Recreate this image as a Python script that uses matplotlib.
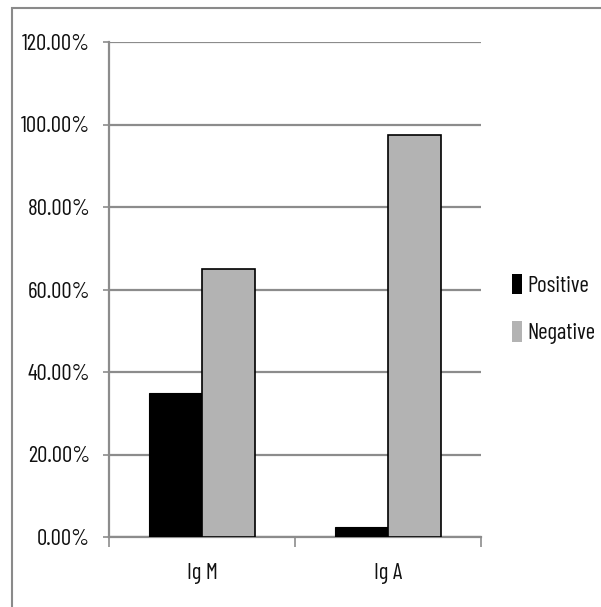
import matplotlib
matplotlib.use("Agg")
import matplotlib.pyplot as plt
from matplotlib.patches import Patch, Rectangle
from matplotlib.ticker import FuncFormatter, FixedLocator
import numpy as np

categories = ["Ig M", "Ig A"]
positive = [35.0, 2.5]
negative = [65.0, 97.5]
series_names = ["Positive", "Negative"]
yticks = [0, 20, 40, 60, 80, 100, 120]

plt.rcParams['font.family'] = ['Barlow Condensed', 'DejaVu Sans']
FS = 16.5
TXT = "#111111"

W, H = 601, 607
fig = plt.figure(figsize=(W/100, H/100), dpi=100)
fig.patch.set_facecolor("white")

# outer frame
fig.patches.append(Rectangle((12/W, -0.05), 1.1, 1 - 8/H + 0.05, transform=fig.transFigure,
                             fill=False, edgecolor="#8a8a8a", linewidth=1.5))

ax = fig.add_axes([109/W, 1 - 537/H, (481-109)/W, (537-42)/H])
x = np.arange(len(categories))
bw = 0.285
ax.bar(x - bw/2, positive, width=bw, color="black", edgecolor="black", linewidth=0.8, zorder=3)
ax.bar(x + bw/2, negative, width=bw, color="#b3b3b3", edgecolor="black", linewidth=1.2, zorder=3)

ax.set_xlim(-0.5, 1.5)
ax.set_ylim(0, 120)
ax.set_yticks(yticks)
ax.yaxis.set_major_formatter(FuncFormatter(lambda v, p: f"{v:.2f}%"))
ax.grid(axis="y", color="#8c8c8c", linewidth=1.6, zorder=0)
ax.set_axisbelow(True)

ax.set_xticks(x)
ax.set_xticklabels(categories)
ax.xaxis.set_minor_locator(FixedLocator([-0.5, 0.5, 1.5]))
ax.tick_params(axis="x", which="major", length=0, pad=19, labelsize=FS, labelcolor=TXT)
ax.tick_params(axis="x", which="minor", length=7.5, width=1.2, color="#8c8c8c")
ax.tick_params(axis="y", length=4.5, width=1.2, color="#8c8c8c", pad=9, labelsize=FS, labelcolor=TXT)

for s in ["top", "right"]:
    ax.spines[s].set_visible(False)
for s in ["left", "bottom"]:
    ax.spines[s].set_color("#8c8c8c")
    ax.spines[s].set_linewidth(1.6)

handles = [Patch(facecolor="black", edgecolor="none"), Patch(facecolor="#b3b3b3", edgecolor="none")]
leg = fig.legend(handles, series_names, loc="center left", bbox_to_anchor=(512/W, 1 - 309/H),
                 frameon=False, fontsize=FS, handlelength=0.45, handleheight=1.0,
                 handletextpad=0.2, labelspacing=1.05, borderaxespad=0, borderpad=0)
for t in leg.get_texts():
    t.set_color(TXT)

fig.savefig("out.png", dpi=100)
